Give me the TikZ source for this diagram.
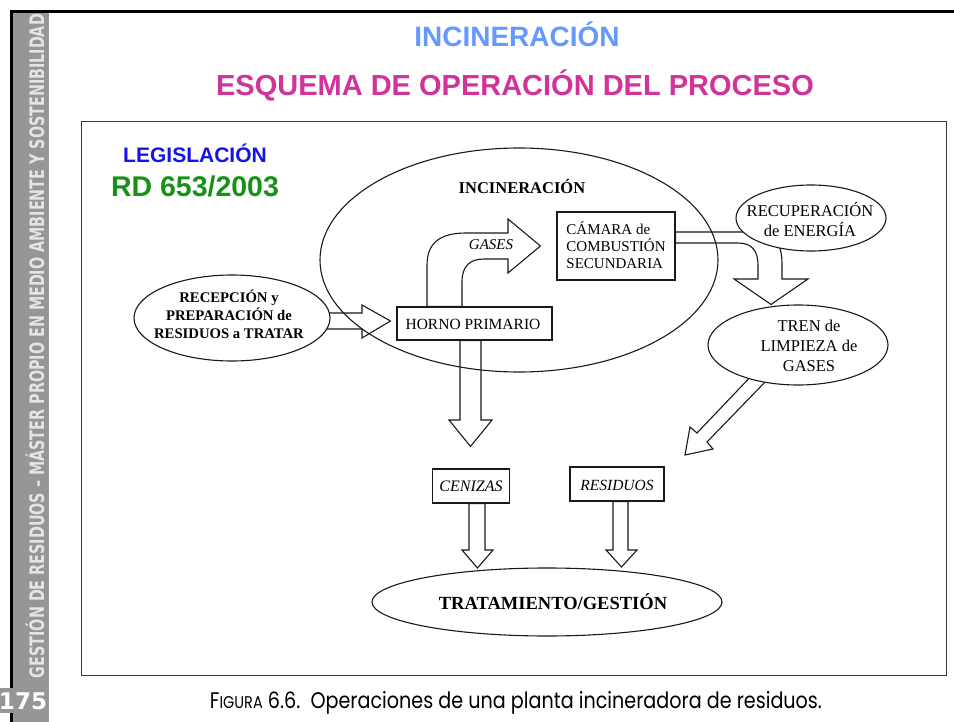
\documentclass[tikz,border=0pt]{standalone}
\usepackage{graphicx}
\usepackage{fontspec}
\setmainfont{Liberation Serif}
\newfontfamily\arialf{Liberation Sans}
\newfontfamily\sidef{DejaVu Sans}
\newfontfamily\capf{Poppins}
\usetikzlibrary{shapes.geometric,calc}
\definecolor{bargray}{RGB}{150,150,150}
\definecolor{sidetxt}{RGB}{228,228,228}
\definecolor{titleblue}{RGB}{102,153,255}
\definecolor{titlemag}{RGB}{209,51,153}
\definecolor{legblue}{RGB}{20,20,230}
\definecolor{rdgreen}{RGB}{25,145,25}
\definecolor{ink}{RGB}{25,25,25}
\newcommand\myfs[2]{\fontsize{#1}{#2}\selectfont}
\pgfdeclarelayer{arw}
\pgfdeclarelayer{bigell}
\pgfsetlayers{arw,bigell,main}
\begin{document}
\begin{tikzpicture}[x=1pt,y=-1pt,
  inkline/.style={draw=ink, line width=1.1pt},
  blockarrow/.style={inkline, fill=white, line join=miter},
  boxnode/.style={inkline, fill=white, rectangle, inner sep=0pt},
  ellnode/.style={inkline, fill=white, ellipse, inner sep=0pt},
  lbl/.style={inner sep=0pt, align=center, text=black},
]
\useasboundingbox (0,0) rectangle (954,722);
% sidebar
\fill[bargray] (10,10) rectangle (49,722);
\fill[bargray] (0,688) rectangle (12,713);
\fill[black] (10,10) rectangle (12.5,688);
\fill[black] (10,713) rectangle (12.5,722);
\fill[black] (10,10) rectangle (954,13);
\node[rotate=90, inner sep=0pt, text=sidetxt] (side) at (35,346)
  {\resizebox{664pt}{\height}{\sidef\bfseries\myfs{20}{20}GESTIÓN DE RESIDUOS – MÁSTER PROPIO EN MEDIO AMBIENTE Y SOSTENIBILIDAD}};
\node[text=white, inner sep=0pt, anchor=base, font=\sidef\bfseries\myfs{23}{23}] (pg) at (23,709) {175};
% titles
\node[anchor=base, inner sep=0pt, font=\arialf\bfseries\myfs{28}{28}, text=titleblue] (t1) at (517,47) {INCINERACIÓN};
\node[anchor=base, inner sep=0pt, font=\arialf\bfseries\myfs{29}{29}, text=titlemag] (t2) at (515,96) {ESQUEMA DE OPERACIÓN DEL PROCESO};
% frame
\draw[draw=ink!85, line width=0.9pt] (81,121) rectangle (946,675);
\node[anchor=base, inner sep=0pt, font=\arialf\bfseries\myfs{21}{21}, text=legblue] (leg) at (195,163) {LEGISLACIÓN};
\node[anchor=base, inner sep=0pt, font=\arialf\bfseries\myfs{28.5}{28.5}, text=rdgreen] (rd) at (195,197) {RD 653/2003};
% nodes
\node[ellnode, minimum width=196pt, minimum height=86pt] (rec) at (232,318) {};
\node[boxnode, minimum width=155pt, minimum height=33pt] (horno) at (474.5,323.5) {};
\node[boxnode, minimum width=118pt, minimum height=68pt] (camara) at (616,246) {};
\node[ellnode, minimum width=150pt, minimum height=66pt] (recup) at (811,218) {};
\node[ellnode, minimum width=180pt, minimum height=80pt] (tren) at (798,345) {};
\node[boxnode, minimum width=77pt, minimum height=34pt] (cen) at (471,486) {};
\node[boxnode, minimum width=94pt, minimum height=34pt] (res) at (617,484) {};
\node[ellnode, minimum width=350pt, minimum height=68pt] (trat) at (547,602) {};
\begin{pgfonlayer}{bigell}
\node[inkline, ellipse, inner sep=0pt, minimum width=398pt, minimum height=224pt] (inc) at (519,260) {};
\end{pgfonlayer}
% block arrows
\begin{pgfonlayer}{arw}
\draw[blockarrow] (rec.center |- 0,313) -- (362,313) -- (362,305) -- ($(horno.west)+(-6,-2.5)$)
  -- (362,338) -- (362,329) -- (rec.center |- 0,329) -- cycle;
\draw[blockarrow] ($(horno.north)+(-47.5,0)$) -- (427,265) .. controls (427,243) and (440,233) .. (466,233)
  -- (508,233) -- (508,219) -- ($(camara.west)+(-16,0)$) -- (508,273) -- (508,259) -- (484,259)
  .. controls (470,259) and (462,266) .. (462,282) -- ($(horno.north)+(-12.5,0)$) -- cycle;
\draw[blockarrow] ($(camara.east)+(0,-14)$) -- (758,232) .. controls (775,232) and (782,245) .. (782,264)
  -- (782,279) -- (808,279) -- ($(tren.north)+(-27,0)$) -- (734,279) -- (758,279) -- (758,265)
  .. controls (758,251) and (752,243) .. (738,243) -- ($(camara.east)+(0,-3)$) -- cycle;
\draw[blockarrow] (757,370) -- (697,433) -- (690,427) -- (685,455) -- (713,449) -- (707,442) -- (767,380) -- cycle;
\draw[blockarrow] ($(horno.south)+(-14.5,0)$) -- (460,420) -- (449,420) -- ($(cen.north)+(-0.5,-22)$)
  -- (492,420) -- (481,420) -- ($(horno.south)+(6.5,0)$) -- cycle;
\draw[blockarrow] ($(cen.south)+(-2,0)$) -- (469,550) -- (462,550) -- (477.5,568) -- (493,550) -- (485,550)
  -- ($(cen.south)+(14,0)$) -- cycle;
\draw[blockarrow] ($(res.south)+(-4,0)$) -- (613,550) -- (606,550) -- (621.5,567) -- (637,550) -- (628,550)
  -- ($(res.south)+(11,0)$) -- cycle;
\end{pgfonlayer}
% labels
\node[lbl, font=\bfseries\myfs{14.7}{18}] (recl) at (229,314) {RECEPCIÓN y\\PREPARACIÓN de\\RESIDUOS a TRATAR};
\node[lbl, font=\bfseries\myfs{16.5}{18}] (incl) at (522,187) {INCINERACIÓN};
\node[lbl, font=\myfs{15.5}{17}] (hornol) at (473,324) {HORNO PRIMARIO};
\node[lbl, align=left, font=\myfs{15}{17}] (camaral) at (616,245) {CÁMARA de\\COMBUSTIÓN\\SECUNDARIA};
\node[lbl, font=\itshape\myfs{15}{17}] (gasesl) at (491,245) {GASES};
\node[lbl, font=\myfs{16.5}{20}] (recupl) at (810,219) {RECUPERACIÓN\\de ENERGÍA};
\node[lbl, font=\myfs{16.5}{20}] (trenl) at (809,346) {TREN de\\LIMPIEZA de\\GASES};
\node[lbl, font=\itshape\myfs{16}{18}] (cenl) at (471,486) {CENIZAS};
\node[lbl, font=\itshape\myfs{15.5}{18}] (resl) at (617,485) {RESIDUOS};
\node[lbl, font=\bfseries\myfs{18.5}{20}] (tratl) at (553,602) {TRATAMIENTO/GESTIÓN};
% caption
\node[anchor=base, inner sep=0pt] (cap) at (516,708)
  {\resizebox{612pt}{\height}{\capf\myfs{22.5}{23}F{\myfs{17}{17}IGURA} 6.6.\ \ Operaciones de una planta incineradora de residuos.}};
\end{tikzpicture}
\end{document}
